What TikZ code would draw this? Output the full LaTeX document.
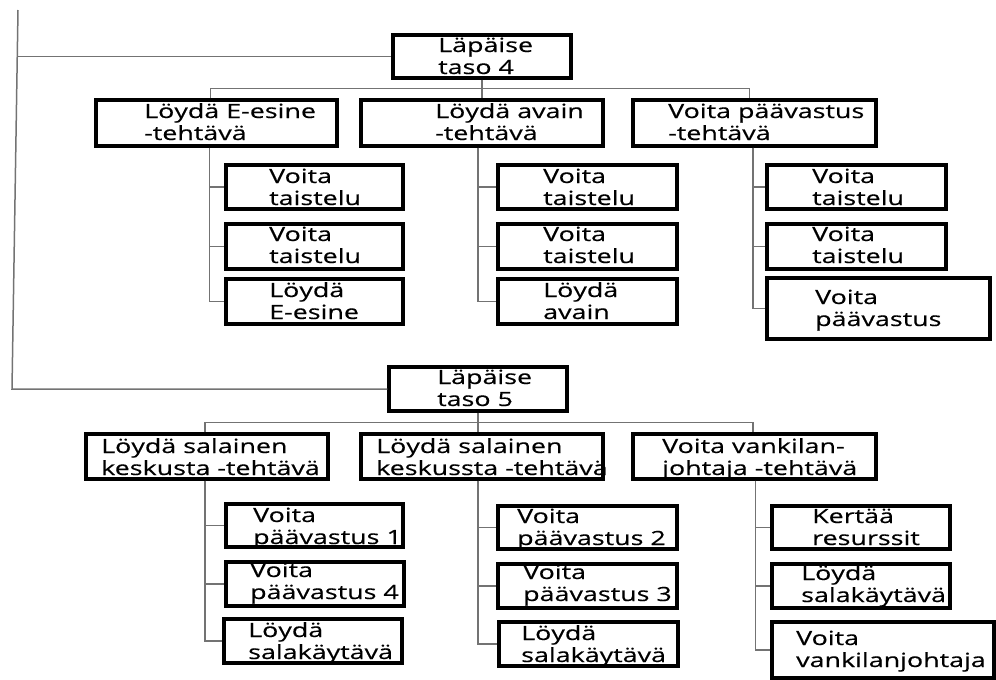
\documentclass[tikz,border=0pt]{standalone}
\usepackage{fontspec}
\setmainfont{Open Sans}[FakeStretch=1.37, FakeBold=0.4]
\usetikzlibrary{fit}
\tikzset{
  box/.style={draw=black, line width=3.2pt, inner sep=0pt},
  txt/.style={inner sep=0pt, align=left, anchor=base west, yshift=-22pt,
    font=\fontsize{19.6}{22}\selectfont},
  conn/.style={draw=black!55, line width=1.5pt},
}
% box from (x1,y1) to (x2,y2), text with first baseline at (tx,ty)
\newcommand\tbox[8]{%
  \node[box, fit={(#2,#3) (#4,#5)}] (#1) {};
  \node[txt] (#1-t) at (#6,#7) {#8};}
\begin{document}
\begin{tikzpicture}[x=1pt, y=-1pt]
\useasboundingbox (0,0) rectangle (996,680);

% level 4
\tbox{t4}{393}{35}{571}{78}{438}{52}{Läpäise\\taso 4}
\tbox{a1}{96}{100}{337}{146}{144}{118}{Löydä E-esine\\-tehtävä}
\tbox{a2}{361}{100}{603}{146}{435}{118}{Löydä avain\\-tehtävä}
\tbox{a3}{633}{100}{876}{146}{668}{118}{Voita päävastus\\-tehtävä}
\tbox{c11}{226}{165}{403}{209}{269}{183}{Voita\\taistelu}
\tbox{c12}{226}{224}{403}{269}{269}{241}{Voita\\taistelu}
\tbox{c13}{226}{279}{403}{324}{269}{297}{Löydä\\E-esine}
\tbox{c21}{498}{165}{677}{209}{543}{183}{Voita\\taistelu}
\tbox{c22}{498}{224}{677}{269}{543}{241}{Voita\\taistelu}
\tbox{c23}{498}{279}{677}{324}{543}{297}{Löydä\\avain}
\tbox{c31}{767}{165}{946}{209}{812}{183}{Voita\\taistelu}
\tbox{c32}{767}{224}{946}{269}{812}{241}{Voita\\taistelu}
\tbox{c33}{767}{278}{990}{339}{815}{304}{Voita\\päävastus}

% level 5
\tbox{t5}{389}{367}{567}{411}{437}{384}{Läpäise\\taso 5}
\tbox{b1}{86}{434}{328}{479}{101}{453}{Löydä salainen\\keskusta -tehtävä}
\tbox{b2}{361}{434}{603}{479}{376}{453}{Löydä salainen\\keskussta -tehtävä}
\tbox{b3}{633}{434}{876}{479}{662}{453}{Voita vankilan-\\johtaja -tehtävä}
\tbox{d11}{226}{504}{403}{547}{253}{522}{Voita\\päävastus 1}
\tbox{d12}{226}{562}{404}{606}{250}{577}{Voita\\päävastus 4}
\tbox{d13}{224}{619}{402}{663}{248}{637}{Löydä\\salakäytävä}
\tbox{d21}{498}{506}{677}{549}{517}{523}{Voita\\päävastus 2}
\tbox{d22}{498}{564}{677}{608}{523}{579}{Voita\\päävastus 3}
\tbox{d23}{499}{622}{678}{666}{521}{640}{Löydä\\salakäytävä}
\tbox{d31}{772}{506}{950}{549}{812}{523}{Kertää\\resurssit}
\tbox{d32}{772}{564}{950}{608}{801}{580}{Löydä\\salakäytävä}
\tbox{d33}{772}{622}{994}{678}{796}{645}{Voita\\vankilanjohtaja}

% left rail joining both levels
\coordinate (railtop) at (18,10);
\coordinate (railbend) at (12,389);
\coordinate (rail4) at (17,56.5);
\draw[conn] (railtop) -- (railbend) -- (t5.west);
\draw[conn] (rail4) -- (t4.west);

% level 4 connectors
\draw[conn] (t4.south) -- (t4.south |- a2.north);
\draw[conn] ([xshift=-6pt]a1.north) -- ++(0,-10) -| ([xshift=-5pt]a3.north);
\foreach \c in {c11,c12,c13} \draw[conn] ([xshift=-7pt]a1.south) |- (\c.west);
\foreach \c in {c21,c22,c23} \draw[conn] ([xshift=-4pt]a2.south) |- (\c.west);
\foreach \c in {c31,c32,c33} \draw[conn] ([xshift=-1.5pt]a3.south) |- (\c.west);

% level 5 connectors
\draw[conn] (t5.south) -- (t5.south |- b2.north);
\draw[conn] ([xshift=-2pt]b1.north) -- ++(0,-10) -| ([xshift=-1.5pt]b3.north);
\foreach \c in {d11,d12,d13} \draw[conn] ([xshift=-2pt]b1.south) |- (\c.west);
\foreach \c in {d21,d22,d23} \draw[conn] ([xshift=-4pt]b2.south) |- (\c.west);
\foreach \c in {d31,d32,d33} \draw[conn] ([xshift=1pt]b3.south) |- (\c.west);
\end{tikzpicture}
\end{document}
